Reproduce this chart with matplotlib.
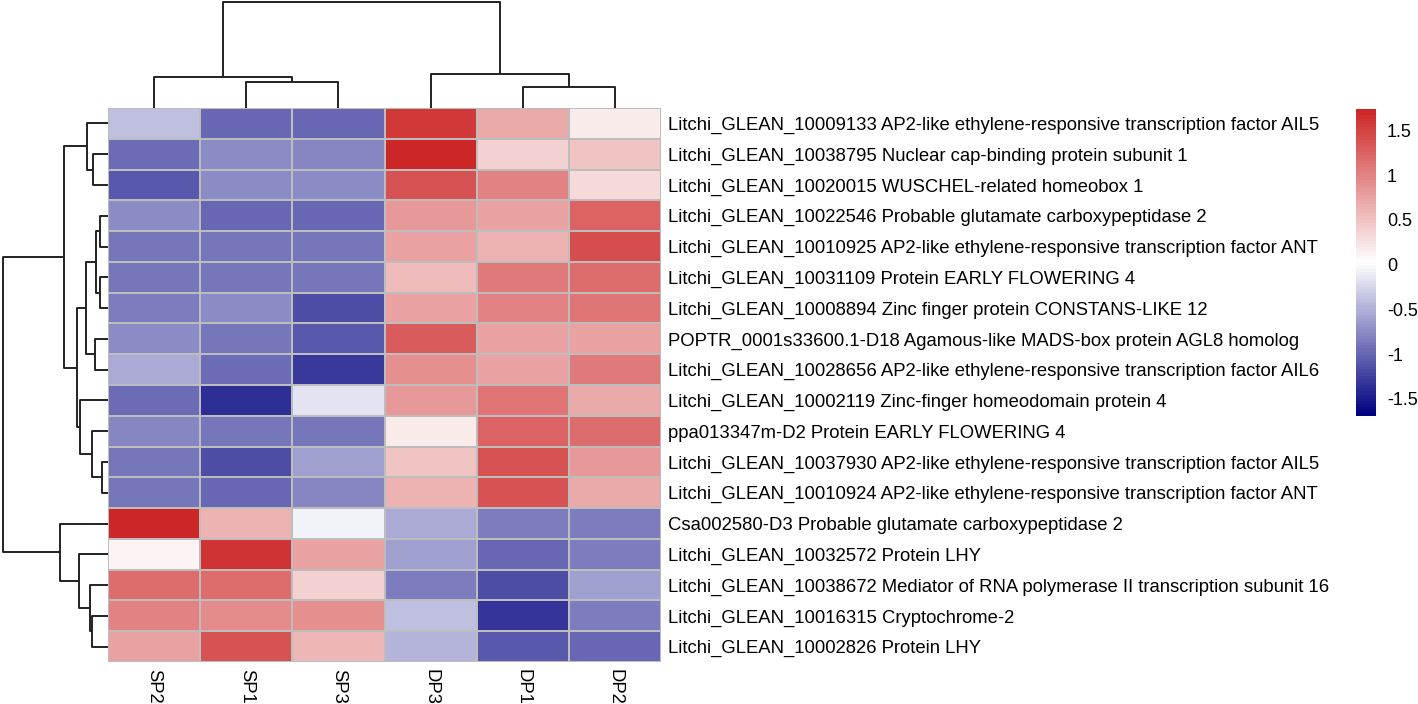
import numpy as np
import matplotlib
matplotlib.use("Agg")
import matplotlib.pyplot as plt
from matplotlib.colors import LinearSegmentedColormap, Normalize
from matplotlib.colorbar import ColorbarBase

plt.rcParams['font.family'] = ['Liberation Sans', 'DejaVu Sans']

samples = ["SP2", "SP1", "SP3", "DP3", "DP1", "DP2"]

genes = [
    "Litchi_GLEAN_10009133 AP2-like ethylene-responsive transcription factor AIL5",
    "Litchi_GLEAN_10038795 Nuclear cap-binding protein subunit 1",
    "Litchi_GLEAN_10020015 WUSCHEL-related homeobox 1",
    "Litchi_GLEAN_10022546 Probable glutamate carboxypeptidase 2",
    "Litchi_GLEAN_10010925 AP2-like ethylene-responsive transcription factor ANT",
    "Litchi_GLEAN_10031109 Protein EARLY FLOWERING 4",
    "Litchi_GLEAN_10008894 Zinc finger protein CONSTANS-LIKE 12",
    "POPTR_0001s33600.1-D18 Agamous-like MADS-box protein AGL8 homolog",
    "Litchi_GLEAN_10028656 AP2-like ethylene-responsive transcription factor AIL6",
    "Litchi_GLEAN_10002119 Zinc-finger homeodomain protein 4",
    "ppa013347m-D2 Protein EARLY FLOWERING 4",
    "Litchi_GLEAN_10037930 AP2-like ethylene-responsive transcription factor AIL5",
    "Litchi_GLEAN_10010924 AP2-like ethylene-responsive transcription factor ANT",
    "Csa002580-D3 Probable glutamate carboxypeptidase 2",
    "Litchi_GLEAN_10032572 Protein LHY",
    "Litchi_GLEAN_10038672 Mediator of RNA polymerase II transcription subunit 16",
    "Litchi_GLEAN_10016315 Cryptochrome-2",
    "Litchi_GLEAN_10002826 Protein LHY",
]

# row z-scores, columns in the order of `samples`
zscores = [
    [-0.39, -0.99, -0.99, 1.58, 0.68, 0.18],
    [-0.94, -0.74, -0.79, 1.71, 0.38, 0.50],
    [-1.10, -0.74, -0.74, 1.37, 0.99, 0.31],
    [-0.74, -0.99, -0.99, 0.83, 0.76, 1.24],
    [-0.87, -0.87, -0.87, 0.75, 0.62, 1.40],
    [-0.87, -0.87, -0.87, 0.55, 1.08, 1.18],
    [-0.86, -0.74, -1.15, 0.76, 1.00, 1.11],
    [-0.74, -0.87, -1.09, 1.32, 0.76, 0.76],
    [-0.53, -0.94, -1.29, 0.91, 0.77, 1.08],
    [-0.94, -1.35, -0.17, 0.83, 1.11, 0.70],
    [-0.79, -0.87, -0.87, 0.18, 1.24, 1.18],
    [-0.87, -1.15, -0.61, 0.49, 1.38, 0.84],
    [-0.87, -0.99, -0.79, 0.64, 1.38, 0.70],
    [1.74, 0.62, -0.05, -0.53, -0.86, -0.86],
    [0.12, 1.61, 0.75, -0.61, -0.99, -0.86],
    [1.18, 1.18, 0.39, -0.86, -1.15, -0.62],
    [0.99, 0.92, 0.91, -0.40, -1.34, -0.86],
    [0.75, 1.38, 0.58, -0.46, -1.09, -0.99],
]

# hclust-style merges (left node, right node, relative height); leaves first, new nodes numbered after
row_merges = [
    (1, 2, 0.142), (0, 18, 0.199), (3, 4, 0.072), (5, 6, 0.079),
    (20, 21, 0.117), (7, 8, 0.126), (22, 23, 0.205), (11, 12, 0.053),
    (10, 25, 0.151), (9, 26, 0.268), (24, 27, 0.293), (19, 28, 0.417),
    (16, 17, 0.151), (15, 30, 0.173), (14, 31, 0.275), (13, 32, 0.457),
    (29, 33, 1.0),
]
col_merges = [(1, 2, 0.244), (0, 6, 0.29), (4, 5, 0.2), (3, 8, 0.325), (7, 9, 1.0)]

legend_min, legend_max = -1.69, 1.74
legend_ticks = [-1.5, -1, -0.5, 0, 0.5, 1, 1.5]


def dendro_segments(merges, n):
    pos = {i: i + 0.5 for i in range(n)}
    hgt = {i: 0.0 for i in range(n)}
    segs = []
    for k, (a, b, h) in enumerate(merges):
        node = n + k
        segs.append(([pos[a], pos[a], pos[b], pos[b]], [hgt[a], h, h, hgt[b]]))
        pos[node] = (pos[a] + pos[b]) / 2
        hgt[node] = h
    return segs


W, H = 1418, 704
fig = plt.figure(figsize=(W / 100, H / 100), dpi=100)


def px_axes(x0, y0, x1, y1):
    return fig.add_axes([x0 / W, 1 - y1 / H, (x1 - x0) / W, (y1 - y0) / H])


data = np.array(zscores)
nrow, ncol = data.shape
# navy -> white -> firebrick3
cmap = LinearSegmentedColormap.from_list("nwf", ["#000080", "#FFFFFF", "#CD2626"], N=100)
norm = Normalize(vmin=legend_min, vmax=legend_max)

# heatmap
ax = px_axes(108, 108, 661, 662)
ax.pcolormesh(data, cmap=cmap, norm=norm, edgecolors="#BDBDBD", linewidth=1.1)
ax.set_xlim(0, ncol)
ax.set_ylim(nrow, 0)
ax.yaxis.tick_right()
ax.set_yticks(np.arange(nrow) + 0.5)
ax.set_yticklabels(genes, fontsize=13.3)
ax.set_xticks(np.arange(ncol) + 0.5)
ax.set_xticklabels(samples, fontsize=13.3, rotation=270)
ax.tick_params(length=0, pad=5)
for s in ax.spines.values():
    s.set_visible(False)

# row dendrogram
axl = px_axes(3, 108, 108, 662)
for ys, xs in dendro_segments(row_merges, nrow):
    axl.plot(xs, ys, color="#222222", lw=1.4, clip_on=False, solid_capstyle="butt")
axl.set_xlim(1.0, 0)
axl.set_ylim(nrow, 0)
axl.axis("off")

# column dendrogram
axt = px_axes(108, 2, 661, 108)
for xs, ys in dendro_segments(col_merges, ncol):
    axt.plot(xs, ys, color="#222222", lw=1.4, clip_on=False, solid_capstyle="butt")
axt.set_xlim(0, ncol)
axt.set_ylim(0, 1.0)
axt.axis("off")

# legend
axc = px_axes(1356, 109, 1376, 416)
cb = ColorbarBase(axc, cmap=cmap, norm=norm, orientation="vertical")
cb.outline.set_visible(False)
cb.set_ticks(legend_ticks)
cb.set_ticklabels([f"{t:g}" for t in legend_ticks])
axc.tick_params(length=0, pad=8, labelsize=13)

fig.savefig("out.png", dpi=100)
